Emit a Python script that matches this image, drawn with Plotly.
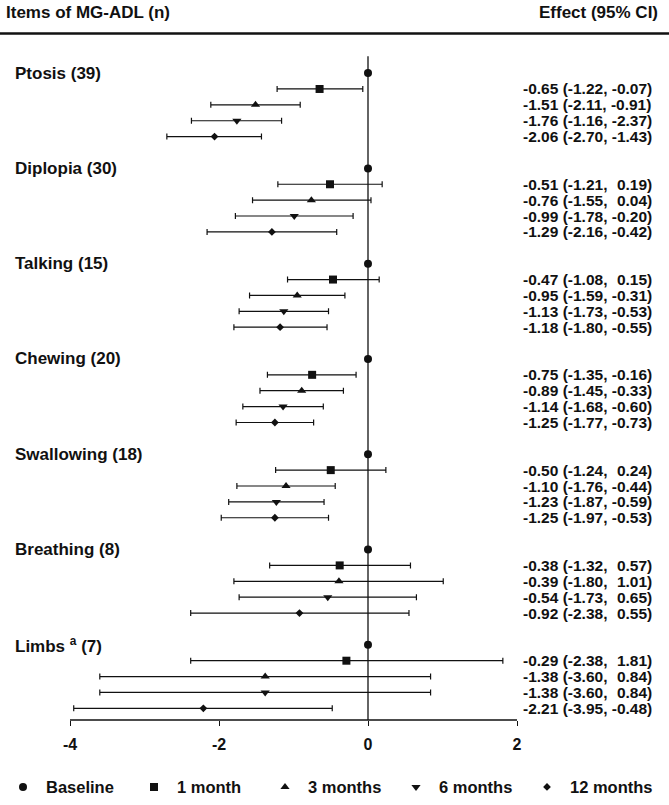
import plotly.graph_objects as go

items = ["Ptosis (39)", "Diplopia (30)", "Talking (15)", "Chewing (20)",
         "Swallowing (18)", "Breathing (8)", "Limbs <sup>a</sup> (7)"]
series = ["1 month", "3 months", "6 months", "12 months"]

# effect, lower, upper per series (rows = items)
est = {
    "1 month":   [-0.65, -0.51, -0.47, -0.75, -0.50, -0.38, -0.29],
    "3 months":  [-1.51, -0.76, -0.95, -0.89, -1.10, -0.39, -1.38],
    "6 months":  [-1.76, -0.99, -1.13, -1.14, -1.23, -0.54, -1.38],
    "12 months": [-2.06, -1.29, -1.18, -1.25, -1.25, -0.92, -2.21],
}
lo = {
    "1 month":   [-1.22, -1.21, -1.08, -1.35, -1.24, -1.32, -2.38],
    "3 months":  [-2.11, -1.55, -1.59, -1.45, -1.76, -1.80, -3.60],
    "6 months":  [-1.16, -1.78, -1.73, -1.68, -1.87, -1.73, -3.60],
    "12 months": [-2.70, -2.16, -1.80, -1.77, -1.97, -2.38, -3.95],
}
hi = {
    "1 month":   [-0.07, 0.19, 0.15, -0.16, 0.24, 0.57, 1.81],
    "3 months":  [-0.91, 0.04, -0.31, -0.33, -0.44, 1.01, 0.84],
    "6 months":  [-2.37, -0.20, -0.53, -0.60, -0.59, 0.65, 0.84],
    "12 months": [-1.43, -0.42, -0.55, -0.73, -0.53, 0.55, -0.48],
}
symbols = {"Baseline": "circle", "1 month": "square", "3 months": "triangle-up",
           "6 months": "triangle-down", "12 months": "diamond"}
msize = {"Baseline": 8, "1 month": 8, "3 months": 8, "6 months": 8, "12 months": 6}
xticks = [-4, -2, 0, 2]

W, H = 669, 805
FONT = "Arial, Liberation Sans, sans-serif"
INK = "#111111"
ROWS_PER = 6
ROW_PX = 16.08
Y0_PX = 74.0
PLOT_BOTTOM = 729.0
X0_PX = 368.0
UNIT_PX = 74.5

def r_of(px):
    return (px - Y0_PX) / ROW_PX

fig = go.Figure()

# baseline
fig.add_trace(go.Scatter(
    x=[0] * len(items), y=[i * ROWS_PER for i in range(len(items))],
    mode="markers", name="Baseline",
    marker=dict(symbol=symbols["Baseline"], size=msize["Baseline"], color=INK),
    cliponaxis=False))

for k, s in enumerate(series):
    ys = [i * ROWS_PER + k + 1 for i in range(len(items))]
    lows = [min(a, b) for a, b in zip(lo[s], hi[s])]
    highs = [max(a, b) for a, b in zip(lo[s], hi[s])]
    fig.add_trace(go.Scatter(
        x=est[s], y=ys, mode="markers", name=s,
        marker=dict(symbol=symbols[s], size=msize[s], color=INK),
        error_x=dict(type="data", symmetric=False,
                     array=[h - e for h, e in zip(highs, est[s])],
                     arrayminus=[e - l for e, l in zip(est[s], lows)],
                     color=INK, thickness=1.2, width=3),
        cliponaxis=False))

def fmt(v):
    t = f"{abs(v):.2f}"
    return ("-" if v < 0 else "\u2004") + t

ann = []
for i, it in enumerate(items):
    ann.append(dict(x=13 / W, xref="paper", y=i * ROWS_PER, yref="y",
                    text=it, showarrow=False, xanchor="left", yanchor="middle",
                    font=dict(family=FONT, size=17, color=INK, weight="bold")))
    for k, s in enumerate(series):
        txt = f"{fmt(est[s][i])} ({fmt(lo[s][i])}, {fmt(hi[s][i])})"
        ann.append(dict(x=521 / W, xref="paper", y=i * ROWS_PER + k + 1, yref="y",
                        text=txt, showarrow=False, xanchor="left", yanchor="middle",
                        font=dict(family=FONT, size=15.5, color=INK, weight="bold")))

ann.append(dict(x=4 / W, xref="paper", y=r_of(13), yref="y", text="Items of MG-ADL (n)",
                showarrow=False, xanchor="left", yanchor="middle",
                font=dict(family=FONT, size=17, color=INK, weight="bold")))
ann.append(dict(x=660 / W, xref="paper", y=r_of(13), yref="y", text="Effect (95% CI)",
                showarrow=False, xanchor="right", yanchor="middle",
                font=dict(family=FONT, size=17, color=INK, weight="bold")))

shapes = [
    dict(type="line", xref="paper", yref="y", x0=0, x1=1, y0=r_of(34), y1=r_of(34),
         line=dict(color=INK, width=2.5)),
    dict(type="line", xref="x", yref="y", x0=0, x1=0, y0=r_of(57), y1=r_of(PLOT_BOTTOM),
         line=dict(color=INK, width=1.3)),
    dict(type="line", xref="x", yref="paper", x0=min(xticks), x1=max(xticks), y0=0, y1=0,
         line=dict(color=INK, width=1.3)),
]

xmin = (0 - X0_PX) / UNIT_PX
xmax = (W - X0_PX) / UNIT_PX

fig.update_layout(
    width=W, height=H,
    margin=dict(l=0, r=0, t=0, b=H - PLOT_BOTTOM),
    plot_bgcolor="white", paper_bgcolor="white",
    annotations=ann, shapes=shapes,
    xaxis=dict(range=[xmin, xmax], tickvals=xticks, ticktext=[str(t) for t in xticks],
               showgrid=False, zeroline=False, showline=False,
               ticks="outside", ticklen=5, tickwidth=1.3, tickcolor=INK,
               ticklabelstandoff=5,
               tickfont=dict(family=FONT, size=16, color=INK, weight="bold")),
    yaxis=dict(range=[r_of(PLOT_BOTTOM), r_of(0)], showgrid=False, zeroline=False,
               showline=False, showticklabels=False, ticks=""),
    legend=dict(orientation="h", x=0.0, xanchor="left", y=(PLOT_BOTTOM - 797) / PLOT_BOTTOM,
                yanchor="middle", font=dict(family=FONT, size=16.5, color=INK, weight="bold"),
                itemsizing="trace", itemwidth=36, entrywidth=80, entrywidthmode="pixels",
                traceorder="normal", bgcolor="rgba(0,0,0,0)"),
    showlegend=True,
)

fig.write_html("out.html", config={"displayModeBar": False},
               post_script="document.body.style.margin='0';document.body.style.padding='0';")
